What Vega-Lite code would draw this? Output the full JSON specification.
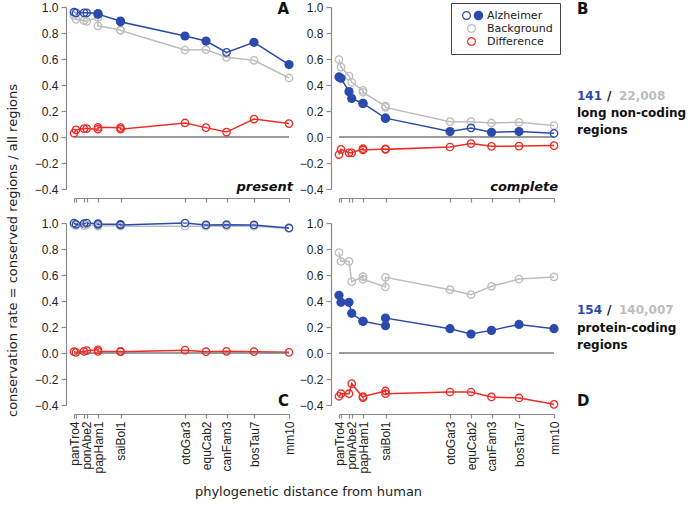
{
"$schema":"https://vega.github.io/schema/vega-lite/v6.json",
"background":"white",
"padding":{"left":5,"top":1,"right":5,"bottom":5},
"config":{"view":{"stroke":null},"axis":{"domainColor":"#8a8a8a","tickColor":"#8a8a8a","domainWidth":1.2,"tickWidth":1.2,"labelFont":"Liberation Sans","labelFontSize":12,"labelColor":"#222222","labelOverlap":false,"titleFont":"DejaVu Sans","titleFontSize":13,"titleFontWeight":"normal","titleColor":"#222222","grid":false},"text":{"font":"DejaVu Sans"}},
"datasets":{"d":[
{"p":"A","k":1,"x":0,"sig":false,"Alzheimer":0.960,"Background":0.935,"Difference":0.030},
{"p":"A","k":2,"x":2,"sig":false,"Alzheimer":0.955,"Background":0.905,"Difference":0.055},
{"p":"A","k":3,"x":10,"sig":false,"Alzheimer":0.955,"Background":0.895,"Difference":0.065},
{"p":"A","k":4,"x":12.7,"sig":false,"Alzheimer":0.955,"Background":0.890,"Difference":0.065},
{"p":"A","k":5,"x":24,"sig":true,"Alzheimer":0.950,"Background":0.920,"Difference":0.060},
{"p":"A","k":6,"x":24,"sig":true,"Alzheimer":0.945,"Background":0.855,"Difference":0.075},
{"p":"A","k":7,"x":46.5,"sig":true,"Alzheimer":0.892,"Background":0.823,"Difference":0.072},
{"p":"A","k":8,"x":46.5,"sig":true,"Alzheimer":0.886,"Background":0.820,"Difference":0.060},
{"p":"A","k":9,"x":111,"sig":true,"Alzheimer":0.777,"Background":0.669,"Difference":0.108},
{"p":"A","k":10,"x":132,"sig":true,"Alzheimer":0.738,"Background":0.672,"Difference":0.072},
{"p":"A","k":11,"x":152.5,"sig":false,"Alzheimer":0.651,"Background":0.613,"Difference":0.038},
{"p":"A","k":12,"x":180,"sig":true,"Alzheimer":0.728,"Background":0.590,"Difference":0.138},
{"p":"A","k":13,"x":215,"sig":true,"Alzheimer":0.557,"Background":0.454,"Difference":0.103},
{"p":"B","k":1,"x":0,"sig":true,"Alzheimer":0.462,"Background":0.595,"Difference":-0.135},
{"p":"B","k":2,"x":2,"sig":true,"Alzheimer":0.452,"Background":0.538,"Difference":-0.095},
{"p":"B","k":3,"x":10,"sig":true,"Alzheimer":0.349,"Background":0.469,"Difference":-0.122},
{"p":"B","k":4,"x":12.7,"sig":true,"Alzheimer":0.297,"Background":0.421,"Difference":-0.122},
{"p":"B","k":5,"x":24,"sig":true,"Alzheimer":0.258,"Background":0.359,"Difference":-0.090},
{"p":"B","k":6,"x":24,"sig":true,"Alzheimer":0.258,"Background":0.344,"Difference":-0.100},
{"p":"B","k":7,"x":46.5,"sig":true,"Alzheimer":0.145,"Background":0.238,"Difference":-0.092},
{"p":"B","k":8,"x":46.5,"sig":true,"Alzheimer":0.145,"Background":0.228,"Difference":-0.095},
{"p":"B","k":9,"x":111,"sig":true,"Alzheimer":0.042,"Background":0.118,"Difference":-0.077},
{"p":"B","k":10,"x":132,"sig":false,"Alzheimer":0.070,"Background":0.118,"Difference":-0.051},
{"p":"B","k":11,"x":152.5,"sig":true,"Alzheimer":0.036,"Background":0.108,"Difference":-0.072},
{"p":"B","k":12,"x":180,"sig":true,"Alzheimer":0.042,"Background":0.113,"Difference":-0.070},
{"p":"B","k":13,"x":215,"sig":false,"Alzheimer":0.028,"Background":0.088,"Difference":-0.066},
{"p":"C","k":1,"x":0,"sig":false,"Alzheimer":1.000,"Background":0.990,"Difference":0.010},
{"p":"C","k":2,"x":2,"sig":false,"Alzheimer":0.990,"Background":0.980,"Difference":0.005},
{"p":"C","k":3,"x":10,"sig":false,"Alzheimer":0.995,"Background":0.980,"Difference":0.012},
{"p":"C","k":4,"x":12.7,"sig":false,"Alzheimer":1.000,"Background":0.985,"Difference":0.018},
{"p":"C","k":5,"x":24,"sig":false,"Alzheimer":0.995,"Background":0.980,"Difference":0.025},
{"p":"C","k":6,"x":24,"sig":false,"Alzheimer":0.990,"Background":0.975,"Difference":0.012},
{"p":"C","k":7,"x":46.5,"sig":false,"Alzheimer":0.990,"Background":0.980,"Difference":0.012},
{"p":"C","k":8,"x":46.5,"sig":false,"Alzheimer":0.985,"Background":0.975,"Difference":0.010},
{"p":"C","k":9,"x":111,"sig":false,"Alzheimer":1.000,"Background":0.975,"Difference":0.022},
{"p":"C","k":10,"x":132,"sig":false,"Alzheimer":0.985,"Background":0.975,"Difference":0.010},
{"p":"C","k":11,"x":152.5,"sig":false,"Alzheimer":0.987,"Background":0.975,"Difference":0.013},
{"p":"C","k":12,"x":180,"sig":false,"Alzheimer":0.985,"Background":0.975,"Difference":0.010},
{"p":"C","k":13,"x":215,"sig":false,"Alzheimer":0.962,"Background":0.958,"Difference":0.005},
{"p":"D","k":1,"x":0,"sig":true,"Alzheimer":0.444,"Background":0.772,"Difference":-0.333},
{"p":"D","k":2,"x":2,"sig":true,"Alzheimer":0.390,"Background":0.705,"Difference":-0.313},
{"p":"D","k":3,"x":10,"sig":true,"Alzheimer":0.390,"Background":0.705,"Difference":-0.313},
{"p":"D","k":4,"x":12.7,"sig":true,"Alzheimer":0.305,"Background":0.549,"Difference":-0.236},
{"p":"D","k":5,"x":24,"sig":true,"Alzheimer":0.244,"Background":0.587,"Difference":-0.343},
{"p":"D","k":6,"x":24,"sig":true,"Alzheimer":0.244,"Background":0.567,"Difference":-0.335},
{"p":"D","k":7,"x":46.5,"sig":true,"Alzheimer":0.210,"Background":0.508,"Difference":-0.292},
{"p":"D","k":8,"x":46.5,"sig":true,"Alzheimer":0.269,"Background":0.582,"Difference":-0.313},
{"p":"D","k":9,"x":111,"sig":true,"Alzheimer":0.187,"Background":0.487,"Difference":-0.300},
{"p":"D","k":10,"x":132,"sig":true,"Alzheimer":0.146,"Background":0.449,"Difference":-0.300},
{"p":"D","k":11,"x":152.5,"sig":true,"Alzheimer":0.174,"Background":0.513,"Difference":-0.338},
{"p":"D","k":12,"x":180,"sig":true,"Alzheimer":0.220,"Background":0.569,"Difference":-0.346},
{"p":"D","k":13,"x":215,"sig":true,"Alzheimer":0.187,"Background":0.585,"Difference":-0.395}
]},
"columns":2,
"spacing":{"row":34,"column":50},
"bounds":"flush",
"resolve":{"scale":{"color":"independent","shape":"independent"},"legend":{"color":"independent","shape":"independent"}},
"concat":[
{"width":215,"height":182,"layer":[
 {"data":{"name":"d"},"transform":[{"filter":"datum.p==='A'"},{"fold":["Background","Alzheimer","Difference"],"as":["s","y"]}],"mark":{"type":"line","strokeWidth":1.5},"encoding":{
   "x":{"field":"x","type":"quantitative","scale":{"domain":[0,215],"nice":false,"zero":false},"axis":{"values":[0,2,10,12.7,24,46.5,111,132,152.5,180,215],"tickCount":40,"labels":false,"offset":9,"tickSize":4,"title":null}},
   "y":{"field":"y","type":"quantitative","scale":{"domain":[-0.4,1.0],"nice":false,"zero":false},"axis":{"values":[-0.4,-0.2,0,0.2,0.4,0.6,0.8,1],"tickCount":40,"format":".1f","offset":8,"tickSize":5,"labelPadding":3,"labelOverlap":false,"title":"conservation rate = conserved regions / all regions","titleX":-54,"titleY":243,"titleAngle":270,"titleBaseline":"middle","titleAlign":"center"}},
   "color":{"field":"s","type":"nominal","scale":{"domain":["Alzheimer","Background","Difference"],"range":["#2b4aae","#bdbdbd","#ee2b24"]},"legend":null},
   "order":{"field":"k","type":"quantitative"}}},
 {"data":{"values":[{}]},"mark":{"type":"rule","color":"#7a7a7a","strokeWidth":1.5},"encoding":{"x":{"datum":0,"type":"quantitative"},"x2":{"datum":215},"y":{"datum":0,"type":"quantitative"}}},
 {"data":{"name":"d"},"transform":[{"filter":"datum.p==='A'"},{"fold":["Background","Alzheimer","Difference"],"as":["s","y"]},{"filter":"datum.s!=='Alzheimer' || !datum.sig"}],"mark":{"type":"point","filled":false,"size":55,"strokeWidth":1.3,"opacity":1},"encoding":{"x":{"field":"x","type":"quantitative"},"y":{"field":"y","type":"quantitative"},"color":{"field":"s","type":"nominal","scale":{"domain":["Alzheimer","Background","Difference"],"range":["#2b4aae","#bdbdbd","#ee2b24"]},"legend":null}}},
 {"data":{"name":"d"},"transform":[{"filter":"datum.p==='A'"},{"fold":["Background","Alzheimer","Difference"],"as":["s","y"]},{"filter":"datum.s==='Alzheimer' && datum.sig"}],"mark":{"type":"point","filled":true,"size":85,"opacity":1},"encoding":{"x":{"field":"x","type":"quantitative"},"y":{"field":"y","type":"quantitative"},"color":{"field":"s","type":"nominal","scale":{"domain":["Alzheimer","Background","Difference"],"range":["#2b4aae","#bdbdbd","#ee2b24"]},"legend":null}}},
 {"data":{"values":[{}]},"mark":{"type":"text","text":"A","align":"right","baseline":"middle","dy":2,"fontWeight":"bold","fontSize":15,"color":"#111111"},"encoding":{"x":{"datum":215,"type":"quantitative"},"y":{"datum":1,"type":"quantitative"}}},
 {"data":{"values":[{}]},"mark":{"type":"text","text":"present","align":"right","baseline":"alphabetic","dx":4,"dy":2,"fontWeight":"bold","fontStyle":"italic","fontSize":13,"color":"#111111"},"encoding":{"x":{"datum":215,"type":"quantitative"},"y":{"datum":-0.4,"type":"quantitative"}}}
]},
{"width":215,"height":182,"layer":[
 {"data":{"name":"d"},"transform":[{"filter":"datum.p==='B'"},{"fold":["Background","Alzheimer","Difference"],"as":["s","y"]}],"mark":{"type":"point","filled":true,"opacity":0},"encoding":{
   "x":{"field":"x","type":"quantitative","scale":{"domain":[0,215],"nice":false,"zero":false},"axis":{"values":[0,2,10,12.7,24,46.5,111,132,152.5,180,215],"tickCount":40,"labels":false,"offset":9,"tickSize":4,"title":null}},
   "y":{"field":"y","type":"quantitative","scale":{"domain":[-0.4,1.0],"nice":false,"zero":false},"axis":{"values":[-0.4,-0.2,0,0.2,0.4,0.6,0.8,1],"tickCount":40,"format":".1f","offset":8,"tickSize":5,"labelPadding":3,"labelOverlap":false,"title":null}},
   "color":{"field":"s","type":"nominal","scale":{"domain":["Alzheimer","Background","Difference"],"range":["#2b4aae","#bdbdbd","#ee2b24"]},"legend":{"title":null,"orient":"none","legendX":112,"legendY":-4,"strokeColor":"#444444","fillColor":"#ffffff","padding":7,"cornerRadius":0,"symbolSize":100,"symbolStrokeWidth":0,"symbolOpacity":1,"symbolOffset":9,"labelOffset":9,"labelFont":"DejaVu Sans","labelFontSize":11,"labelColor":"#222222","rowPadding":1}},
   "shape":{"field":"s","type":"nominal","scale":{"domain":["Alzheimer","Background","Difference"],"range":[
     "M -0.3 0 C -0.3 0.497 -0.703 0.9 -1.2 0.9 C -1.697 0.9 -2.1 0.497 -2.1 0 C -2.1 -0.497 -1.697 -0.9 -1.2 -0.9 C -0.703 -0.9 -0.3 -0.497 -0.3 0 Z M -0.54 0 C -0.54 -0.365 -0.835 -0.66 -1.2 -0.66 C -1.565 -0.66 -1.86 -0.365 -1.86 0 C -1.86 0.365 -1.565 0.66 -1.2 0.66 C -0.835 0.66 -0.54 0.365 -0.54 0 Z M 2.15 0 C 2.15 0.525 1.725 0.95 1.2 0.95 C 0.675 0.95 0.25 0.525 0.25 0 C 0.25 -0.525 0.675 -0.95 1.2 -0.95 C 1.725 -0.95 2.15 -0.525 2.15 0 Z",
     "M 0.7 0 C 0.7 0.497 0.297 0.9 -0.2 0.9 C -0.697 0.9 -1.1 0.497 -1.1 0 C -1.1 -0.497 -0.697 -0.9 -0.2 -0.9 C 0.297 -0.9 0.7 -0.497 0.7 0 Z M 0.46 0 C 0.46 -0.365 0.165 -0.66 -0.2 -0.66 C -0.565 -0.66 -0.86 -0.365 -0.86 0 C -0.86 0.365 -0.565 0.66 -0.2 0.66 C 0.165 0.66 0.46 0.365 0.46 0 Z",
     "M 0.7 0 C 0.7 0.497 0.297 0.9 -0.2 0.9 C -0.697 0.9 -1.1 0.497 -1.1 0 C -1.1 -0.497 -0.697 -0.9 -0.2 -0.9 C 0.297 -0.9 0.7 -0.497 0.7 0 Z M 0.46 0 C 0.46 -0.365 0.165 -0.66 -0.2 -0.66 C -0.565 -0.66 -0.86 -0.365 -0.86 0 C -0.86 0.365 -0.565 0.66 -0.2 0.66 C 0.165 0.66 0.46 0.365 0.46 0 Z"]},
   "legend":{"title":null,"orient":"none","legendX":112,"legendY":-4,"strokeColor":"#444444","fillColor":"#ffffff","padding":7,"cornerRadius":0,"symbolSize":100,"symbolStrokeWidth":0,"symbolOpacity":1,"symbolOffset":9,"labelOffset":9,"labelFont":"DejaVu Sans","labelFontSize":11,"labelColor":"#222222","rowPadding":1}}}},
 {"data":{"values":[{}]},"mark":{"type":"rule","color":"#7a7a7a","strokeWidth":1.5},"encoding":{"x":{"datum":0,"type":"quantitative"},"x2":{"datum":215},"y":{"datum":0,"type":"quantitative"}}},
 {"data":{"name":"d"},"transform":[{"filter":"datum.p==='B'"},{"fold":["Background","Alzheimer","Difference"],"as":["s","y"]}],"mark":{"type":"line","strokeWidth":1.5},"encoding":{
   "x":{"field":"x","type":"quantitative"},
   "y":{"field":"y","type":"quantitative"},
   "color":{"field":"s","type":"nominal","scale":{"domain":["Alzheimer","Background","Difference"],"range":["#2b4aae","#bdbdbd","#ee2b24"]}},
   "order":{"field":"k","type":"quantitative"}}},
 {"data":{"name":"d"},"transform":[{"filter":"datum.p==='B'"},{"fold":["Background","Alzheimer","Difference"],"as":["s","y"]},{"filter":"datum.s!=='Alzheimer' || !datum.sig"}],"mark":{"type":"point","filled":false,"size":55,"strokeWidth":1.3,"opacity":1},"encoding":{"x":{"field":"x","type":"quantitative"},"y":{"field":"y","type":"quantitative"},"color":{"field":"s","type":"nominal","scale":{"domain":["Alzheimer","Background","Difference"],"range":["#2b4aae","#bdbdbd","#ee2b24"]}}}},
 {"data":{"name":"d"},"transform":[{"filter":"datum.p==='B'"},{"fold":["Background","Alzheimer","Difference"],"as":["s","y"]},{"filter":"datum.s==='Alzheimer' && datum.sig"}],"mark":{"type":"point","filled":true,"size":85,"opacity":1},"encoding":{"x":{"field":"x","type":"quantitative"},"y":{"field":"y","type":"quantitative"},"color":{"field":"s","type":"nominal","scale":{"domain":["Alzheimer","Background","Difference"],"range":["#2b4aae","#bdbdbd","#ee2b24"]}}}},
 {"data":{"values":[{}]},"mark":{"type":"text","text":"B","align":"left","baseline":"middle","dy":2,"fontWeight":"bold","fontSize":15,"color":"#111111"},"encoding":{"x":{"datum":238,"type":"quantitative"},"y":{"datum":1,"type":"quantitative"}}},
 {"data":{"values":[{}]},"mark":{"type":"text","text":"complete","align":"right","baseline":"alphabetic","dx":4,"dy":2,"fontWeight":"bold","fontStyle":"italic","fontSize":13,"color":"#111111"},"encoding":{"x":{"datum":215,"type":"quantitative"},"y":{"datum":-0.4,"type":"quantitative"}}},
 {"data":{"values":[{}]},"mark":{"type":"text","text":"141","align":"left","baseline":"middle","fontWeight":"bold","fontSize":12,"color":"#2b4aae"},"encoding":{"x":{"datum":238,"type":"quantitative"},"y":{"datum":0.315,"type":"quantitative"}}},
 {"data":{"values":[{}]},"mark":{"type":"text","text":"/","align":"left","baseline":"middle","dx":30,"fontWeight":"bold","fontSize":12,"color":"#111111"},"encoding":{"x":{"datum":238,"type":"quantitative"},"y":{"datum":0.315,"type":"quantitative"}}},
 {"data":{"values":[{}]},"mark":{"type":"text","text":"22,008","align":"left","baseline":"middle","dx":42,"fontWeight":"bold","fontSize":12,"color":"#bdbdbd"},"encoding":{"x":{"datum":238,"type":"quantitative"},"y":{"datum":0.315,"type":"quantitative"}}},
 {"data":{"values":[{}]},"mark":{"type":"text","text":"long non-coding","align":"left","baseline":"middle","fontWeight":"bold","fontSize":12,"color":"#111111"},"encoding":{"x":{"datum":238,"type":"quantitative"},"y":{"datum":0.185,"type":"quantitative"}}},
 {"data":{"values":[{}]},"mark":{"type":"text","text":"regions","align":"left","baseline":"middle","fontWeight":"bold","fontSize":12,"color":"#111111"},"encoding":{"x":{"datum":238,"type":"quantitative"},"y":{"datum":0.054,"type":"quantitative"}}}
]},
{"width":215,"height":182,"layer":[
 {"data":{"name":"d"},"transform":[{"filter":"datum.p==='C'"},{"fold":["Background","Alzheimer","Difference"],"as":["s","y"]}],"mark":{"type":"line","strokeWidth":1.5},"encoding":{
   "x":{"field":"x","type":"quantitative","scale":{"domain":[0,215],"nice":false,"zero":false},"axis":{"values":[0,2,10,12.7,24,46.5,111,132,152.5,180,215],"tickCount":40,"offset":9,"tickSize":4,"labelAngle":270,"labelOverlap":false,"labelFlush":false,"labelPadding":3,"labelExpr":"datum.value==0?'panTro4':datum.value==12.7?'ponAbe2':datum.value==24?'papHam1':datum.value==46.5?'saiBol1':datum.value==111?'otoGar3':datum.value==132?'equCab2':datum.value==152.5?'canFam3':datum.value==180?'bosTau7':datum.value==215?'mm10':''","title":"phylogenetic distance from human","titleX":234,"titleY":77,"titleBaseline":"middle","titleAlign":"center"}},
   "y":{"field":"y","type":"quantitative","scale":{"domain":[-0.4,1.0],"nice":false,"zero":false},"axis":{"values":[-0.4,-0.2,0,0.2,0.4,0.6,0.8,1],"tickCount":40,"format":".1f","offset":8,"tickSize":5,"labelPadding":3,"labelOverlap":false,"title":null}},
   "color":{"field":"s","type":"nominal","scale":{"domain":["Alzheimer","Background","Difference"],"range":["#2b4aae","#bdbdbd","#ee2b24"]},"legend":null},
   "order":{"field":"k","type":"quantitative"}}},
 {"data":{"values":[{}]},"mark":{"type":"rule","color":"#7a7a7a","strokeWidth":1.5},"encoding":{"x":{"datum":0,"type":"quantitative"},"x2":{"datum":215},"y":{"datum":0,"type":"quantitative"}}},
 {"data":{"name":"d"},"transform":[{"filter":"datum.p==='C'"},{"fold":["Background","Alzheimer","Difference"],"as":["s","y"]},{"filter":"datum.s!=='Alzheimer' || !datum.sig"}],"mark":{"type":"point","filled":false,"size":55,"strokeWidth":1.3,"opacity":1},"encoding":{"x":{"field":"x","type":"quantitative"},"y":{"field":"y","type":"quantitative"},"color":{"field":"s","type":"nominal","scale":{"domain":["Alzheimer","Background","Difference"],"range":["#2b4aae","#bdbdbd","#ee2b24"]},"legend":null}}},
 {"data":{"name":"d"},"transform":[{"filter":"datum.p==='C'"},{"fold":["Background","Alzheimer","Difference"],"as":["s","y"]},{"filter":"datum.s==='Alzheimer' && datum.sig"}],"mark":{"type":"point","filled":true,"size":85,"opacity":1},"encoding":{"x":{"field":"x","type":"quantitative"},"y":{"field":"y","type":"quantitative"},"color":{"field":"s","type":"nominal","scale":{"domain":["Alzheimer","Background","Difference"],"range":["#2b4aae","#bdbdbd","#ee2b24"]},"legend":null}}},
 {"data":{"values":[{}]},"mark":{"type":"text","text":"C","align":"right","baseline":"middle","dy":-4,"fontWeight":"bold","fontSize":15,"color":"#111111"},"encoding":{"x":{"datum":215,"type":"quantitative"},"y":{"datum":-0.4,"type":"quantitative"}}}
]},
{"width":215,"height":182,"layer":[
 {"data":{"name":"d"},"transform":[{"filter":"datum.p==='D'"},{"fold":["Background","Alzheimer","Difference"],"as":["s","y"]}],"mark":{"type":"line","strokeWidth":1.5},"encoding":{
   "x":{"field":"x","type":"quantitative","scale":{"domain":[0,215],"nice":false,"zero":false},"axis":{"values":[0,2,10,12.7,24,46.5,111,132,152.5,180,215],"tickCount":40,"offset":9,"tickSize":4,"labelAngle":270,"labelOverlap":false,"labelFlush":false,"labelPadding":3,"labelExpr":"datum.value==0?'panTro4':datum.value==12.7?'ponAbe2':datum.value==24?'papHam1':datum.value==46.5?'saiBol1':datum.value==111?'otoGar3':datum.value==132?'equCab2':datum.value==152.5?'canFam3':datum.value==180?'bosTau7':datum.value==215?'mm10':''","title":null}},
   "y":{"field":"y","type":"quantitative","scale":{"domain":[-0.4,1.0],"nice":false,"zero":false},"axis":{"values":[-0.4,-0.2,0,0.2,0.4,0.6,0.8,1],"tickCount":40,"format":".1f","offset":8,"tickSize":5,"labelPadding":3,"labelOverlap":false,"title":null}},
   "color":{"field":"s","type":"nominal","scale":{"domain":["Alzheimer","Background","Difference"],"range":["#2b4aae","#bdbdbd","#ee2b24"]},"legend":null},
   "order":{"field":"k","type":"quantitative"}}},
 {"data":{"values":[{}]},"mark":{"type":"rule","color":"#7a7a7a","strokeWidth":1.5},"encoding":{"x":{"datum":0,"type":"quantitative"},"x2":{"datum":215},"y":{"datum":0,"type":"quantitative"}}},
 {"data":{"name":"d"},"transform":[{"filter":"datum.p==='D'"},{"fold":["Background","Alzheimer","Difference"],"as":["s","y"]},{"filter":"datum.s!=='Alzheimer' || !datum.sig"}],"mark":{"type":"point","filled":false,"size":55,"strokeWidth":1.3,"opacity":1},"encoding":{"x":{"field":"x","type":"quantitative"},"y":{"field":"y","type":"quantitative"},"color":{"field":"s","type":"nominal","scale":{"domain":["Alzheimer","Background","Difference"],"range":["#2b4aae","#bdbdbd","#ee2b24"]},"legend":null}}},
 {"data":{"name":"d"},"transform":[{"filter":"datum.p==='D'"},{"fold":["Background","Alzheimer","Difference"],"as":["s","y"]},{"filter":"datum.s==='Alzheimer' && datum.sig"}],"mark":{"type":"point","filled":true,"size":85,"opacity":1},"encoding":{"x":{"field":"x","type":"quantitative"},"y":{"field":"y","type":"quantitative"},"color":{"field":"s","type":"nominal","scale":{"domain":["Alzheimer","Background","Difference"],"range":["#2b4aae","#bdbdbd","#ee2b24"]},"legend":null}}},
 {"data":{"values":[{}]},"mark":{"type":"text","text":"D","align":"left","baseline":"middle","dy":-4,"fontWeight":"bold","fontSize":15,"color":"#111111"},"encoding":{"x":{"datum":238,"type":"quantitative"},"y":{"datum":-0.4,"type":"quantitative"}}},
 {"data":{"values":[{}]},"mark":{"type":"text","text":"154","align":"left","baseline":"middle","fontWeight":"bold","fontSize":12,"color":"#2b4aae"},"encoding":{"x":{"datum":238,"type":"quantitative"},"y":{"datum":0.331,"type":"quantitative"}}},
 {"data":{"values":[{}]},"mark":{"type":"text","text":"/","align":"left","baseline":"middle","dx":30,"fontWeight":"bold","fontSize":12,"color":"#111111"},"encoding":{"x":{"datum":238,"type":"quantitative"},"y":{"datum":0.331,"type":"quantitative"}}},
 {"data":{"values":[{}]},"mark":{"type":"text","text":"140,007","align":"left","baseline":"middle","dx":42,"fontWeight":"bold","fontSize":12,"color":"#bdbdbd"},"encoding":{"x":{"datum":238,"type":"quantitative"},"y":{"datum":0.331,"type":"quantitative"}}},
 {"data":{"values":[{}]},"mark":{"type":"text","text":"protein-coding","align":"left","baseline":"middle","fontWeight":"bold","fontSize":12,"color":"#111111"},"encoding":{"x":{"datum":238,"type":"quantitative"},"y":{"datum":0.192,"type":"quantitative"}}},
 {"data":{"values":[{}]},"mark":{"type":"text","text":"regions","align":"left","baseline":"middle","fontWeight":"bold","fontSize":12,"color":"#111111"},"encoding":{"x":{"datum":238,"type":"quantitative"},"y":{"datum":0.062,"type":"quantitative"}}}
]}
]
}
